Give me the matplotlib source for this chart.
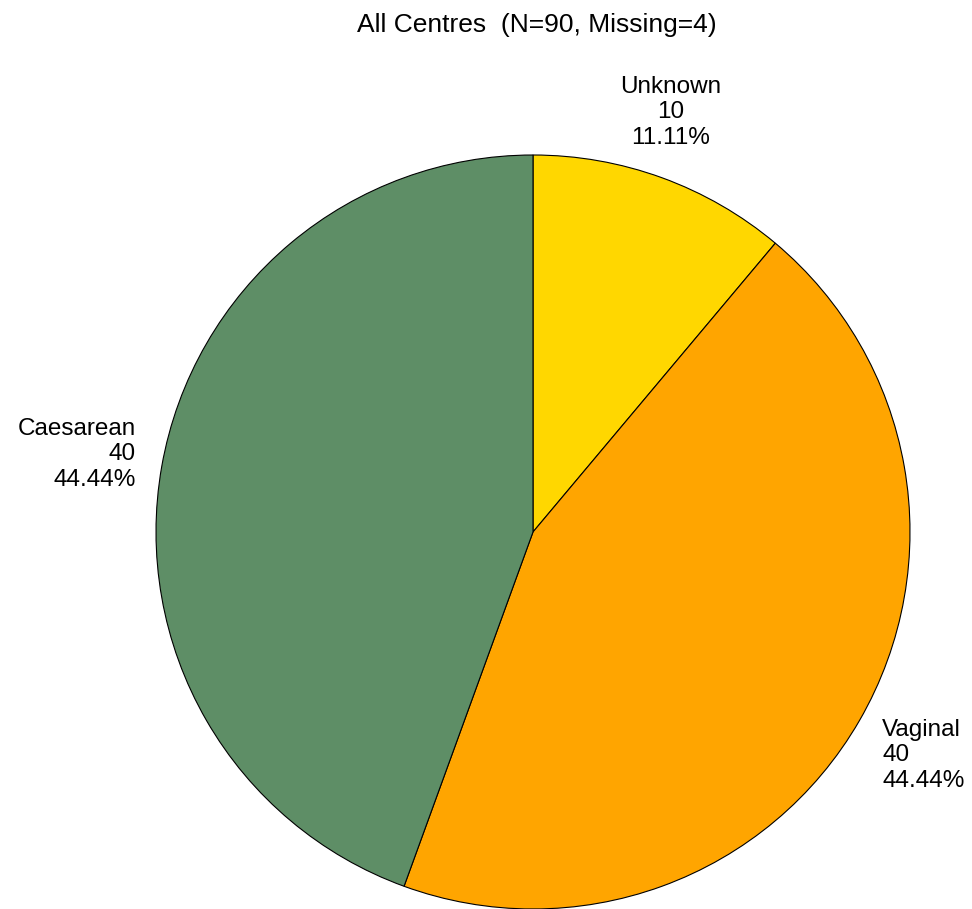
import numpy as np
import matplotlib.pyplot as plt

plt.rcParams['font.family'] = ['Liberation Sans', 'DejaVu Sans']

categories = ["Unknown", "Vaginal", "Caesarean"]
counts = [10, 40, 40]
colours = ["#FFD700", "#FFA500", "#5E8E66"]
n_missing = 4
total = sum(counts)

fig = plt.figure(figsize=(9.72, 9.09), dpi=100)
ax = fig.add_axes([0.0, 0.0, 1.0, 1.0])

# pie centre and radius in data units (axes spans 0..972 x 0..909 in pixels)
cx, cy, r = 533, 909 - 532, 377
wedges, _ = ax.pie(counts, colors=colours, startangle=90, counterclock=False,
                   center=(cx, cy), radius=r,
                   wedgeprops=dict(edgecolor="black", linewidth=0.8))

# labels placed on an ellipse outside each wedge
for w, name, c in zip(wedges, categories, counts):
    mid = np.deg2rad((w.theta1 + w.theta2) / 2)
    pct = 100 * c / total
    txt = f"{name}\n{c}\n{pct:.2f}%"
    if np.cos(mid) > 0.5:
        ha = "left"
    elif np.cos(mid) < -0.5:
        ha = "right"
    else:
        ha = "center"
    x = cx + 1.07 * r * np.cos(mid)
    y = cy + 1.185 * r * np.sin(mid)
    ax.text(x, y, txt, ha=ha, va="center", fontsize=17.5, multialignment=ha,
            linespacing=1.2)

ax.set_xlim(0, 972)
ax.set_ylim(0, 909)
ax.set_aspect("equal")
ax.axis("off")

fig.text(537 / 972, 1 - 25 / 909, f"All Centres  (N={total}, Missing={n_missing})",
         ha="center", va="center", fontsize=19)

fig.savefig("out.png", dpi=100)
